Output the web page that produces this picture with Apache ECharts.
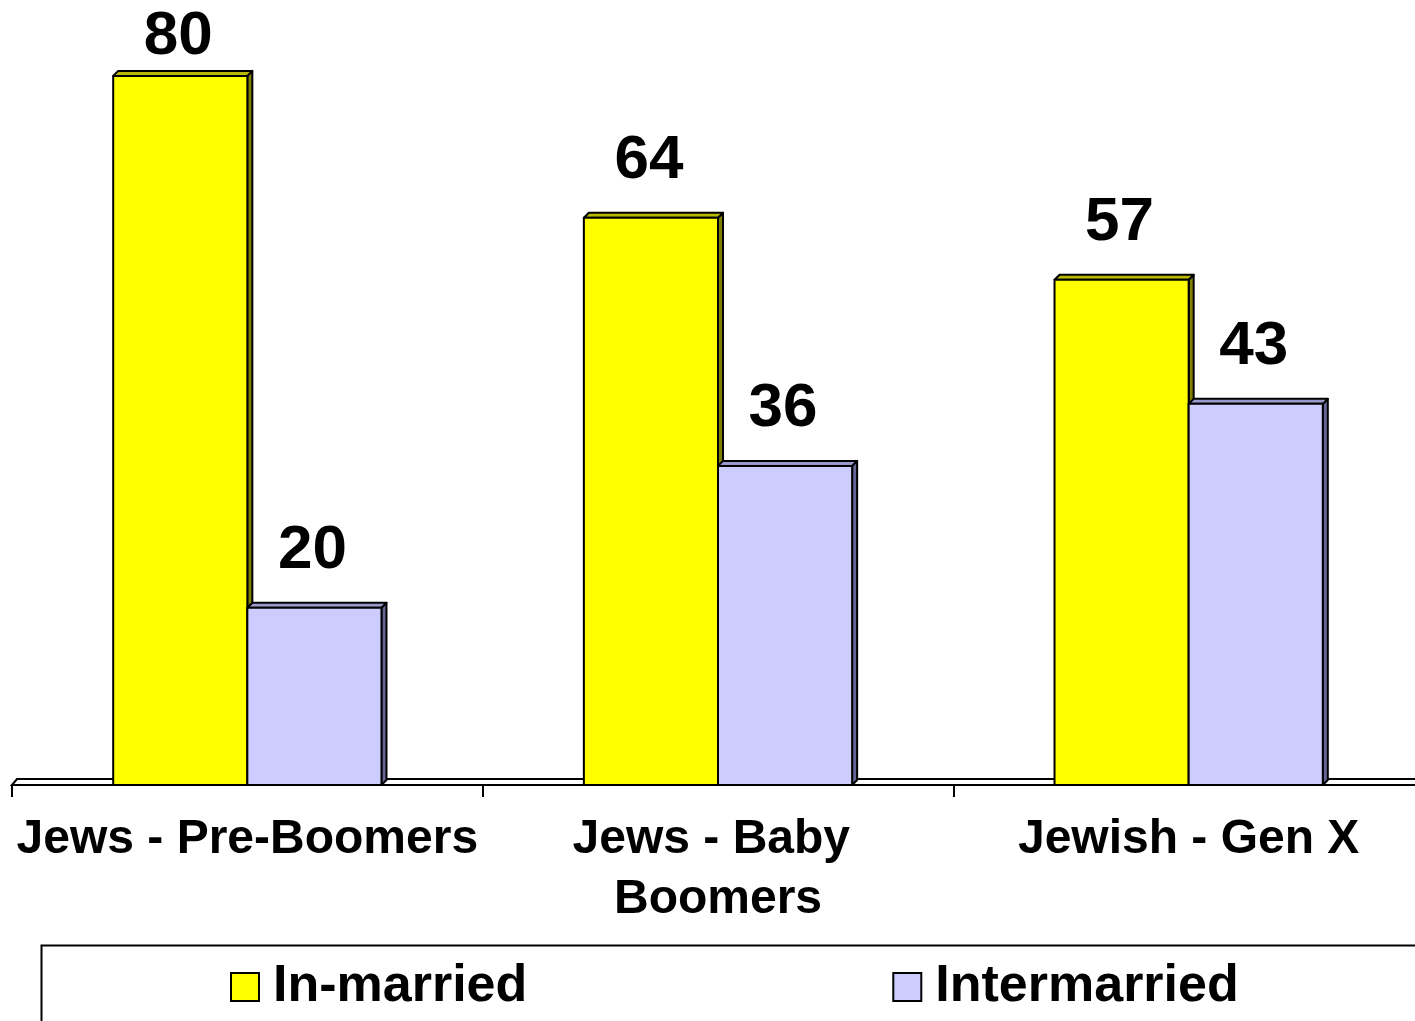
<!DOCTYPE html>
<html><head><meta charset="utf-8">
<script src="https://cdn.jsdelivr.net/npm/echarts@6/dist/echarts.min.js"></script>
<style>html,body{margin:0;padding:0;background:#fff;overflow:hidden}#c{width:1432px;height:1021px}</style>
</head><body><div id="c"></div>
<script>
const categories = ['Jews - Pre-Boomers', 'Jews - Baby Boomers', 'Jewish - Gen X'];
const inMarried = [80, 64, 57];
const interMarried = [20, 36, 43];
const seriesNames = ['In-married', 'Intermarried'];

const FONT = '"Liberation Sans", Arial, Helvetica, sans-serif';
const chart = echarts.init(document.getElementById('c'), null, {renderer: 'canvas'});
const DEPTH = 5;
const faces = [
  {front: '#ffff00', top: '#b8b800', side: '#808000'},
  {front: '#ccccff', top: '#9999cc', side: '#666699'}
];

function barRender(si) {
  return function (params, api) {
    const cat = api.value(0), val = api.value(1);
    const band = api.size([1, 0])[0];
    const w = band * 0.285;
    const c = api.coord([cat, val]);
    const b = api.coord([cat, 0]);
    const x0 = c[0] + (si === 0 ? -w : 0);
    const x1 = x0 + w;
    const yt = c[1], yb = b[1];
    const d = DEPTH;
    const f = faces[si];
    const st = (fill) => ({fill: fill, stroke: '#000', lineWidth: 2, lineJoin: 'round'});
    let ty = yt - 88;
    if (ty < 6) ty = 6;
    return {
      type: 'group',
      children: [
        {type: 'polygon', shape: {points: [[x1, yt], [x1 + d, yt - d], [x1 + d, yb - d], [x1, yb]]}, style: st(f.side)},
        {type: 'polygon', shape: {points: [[x0, yt], [x0 + d, yt - d], [x1 + d, yt - d], [x1, yt]]}, style: st(f.top)},
        {type: 'rect', shape: {x: x0, y: yt, width: w, height: yb - yt}, style: st(f.front)},
        {type: 'text', style: {text: String(val), x: (x0 + x1) / 2 - 2, y: ty, textAlign: 'center', textVerticalAlign: 'top', font: 'bold 62px ' + FONT, fill: '#000'}}
      ]
    };
  };
}

const option = {
  animation: false,
  backgroundColor: '#fff',
  grid: {left: 12, width: 1412, top: 5, bottom: 236, containLabel: false},
  xAxis: {
    type: 'category',
    data: categories,
    axisLine: {show: true, lineStyle: {color: '#000', width: 2}},
    axisTick: {show: true, length: 12, lineStyle: {color: '#000', width: 2}},
    axisLabel: {
      interval: 0, color: '#000', fontFamily: FONT, fontWeight: 'bold', fontSize: 48,
      lineHeight: 60, margin: 25, width: 470, overflow: 'break'
    },
    splitLine: {show: false}
  },
  yAxis: {type: 'value', min: 0, max: 88, show: false, splitLine: {show: false}},
  legend: {
    data: seriesNames,
    left: 230, top: 957, padding: 0,
    icon: 'rect', itemWidth: 28, itemHeight: 28, itemGap: 365,
    itemStyle: {borderColor: '#000', borderWidth: 2},
    textStyle: {color: '#000', fontFamily: FONT, fontWeight: 'bold', fontSize: 52, lineHeight: 60, padding: [0, 0, 0, 9]},
    selectedMode: false
  },
  graphic: [
    {type: 'rect', left: 39, top: 943, z: -1, shape: {width: 1420, height: 100}, style: {fill: 'none', stroke: '#000', lineWidth: 2}}
  ],
  series: [
    {
      type: 'custom', name: 'floor', silent: true, z: 1, data: [[0, 0]],
      renderItem: function (params, api) {
        const cs = params.coordSys;
        const y = api.coord([0, 0])[1];
        const xL = cs.x, xR = cs.x + cs.width;
        return {type: 'polygon', shape: {points: [[xL, y], [xL + DEPTH, y - 6], [xR + DEPTH, y - 6], [xR, y]]}, style: {fill: '#fff', stroke: '#000', lineWidth: 2}};
      }
    },
    {
      type: 'custom', name: seriesNames[0], z: 2,
      itemStyle: {color: faces[0].front, borderColor: '#000', borderWidth: 2},
      data: inMarried.map((v, i) => [i, v]),
      renderItem: barRender(0)
    },
    {
      type: 'custom', name: seriesNames[1], z: 2,
      itemStyle: {color: faces[1].front, borderColor: '#000', borderWidth: 2},
      data: interMarried.map((v, i) => [i, v]),
      renderItem: barRender(1)
    }
  ]
};
chart.setOption(option);
</script>
</body></html>
